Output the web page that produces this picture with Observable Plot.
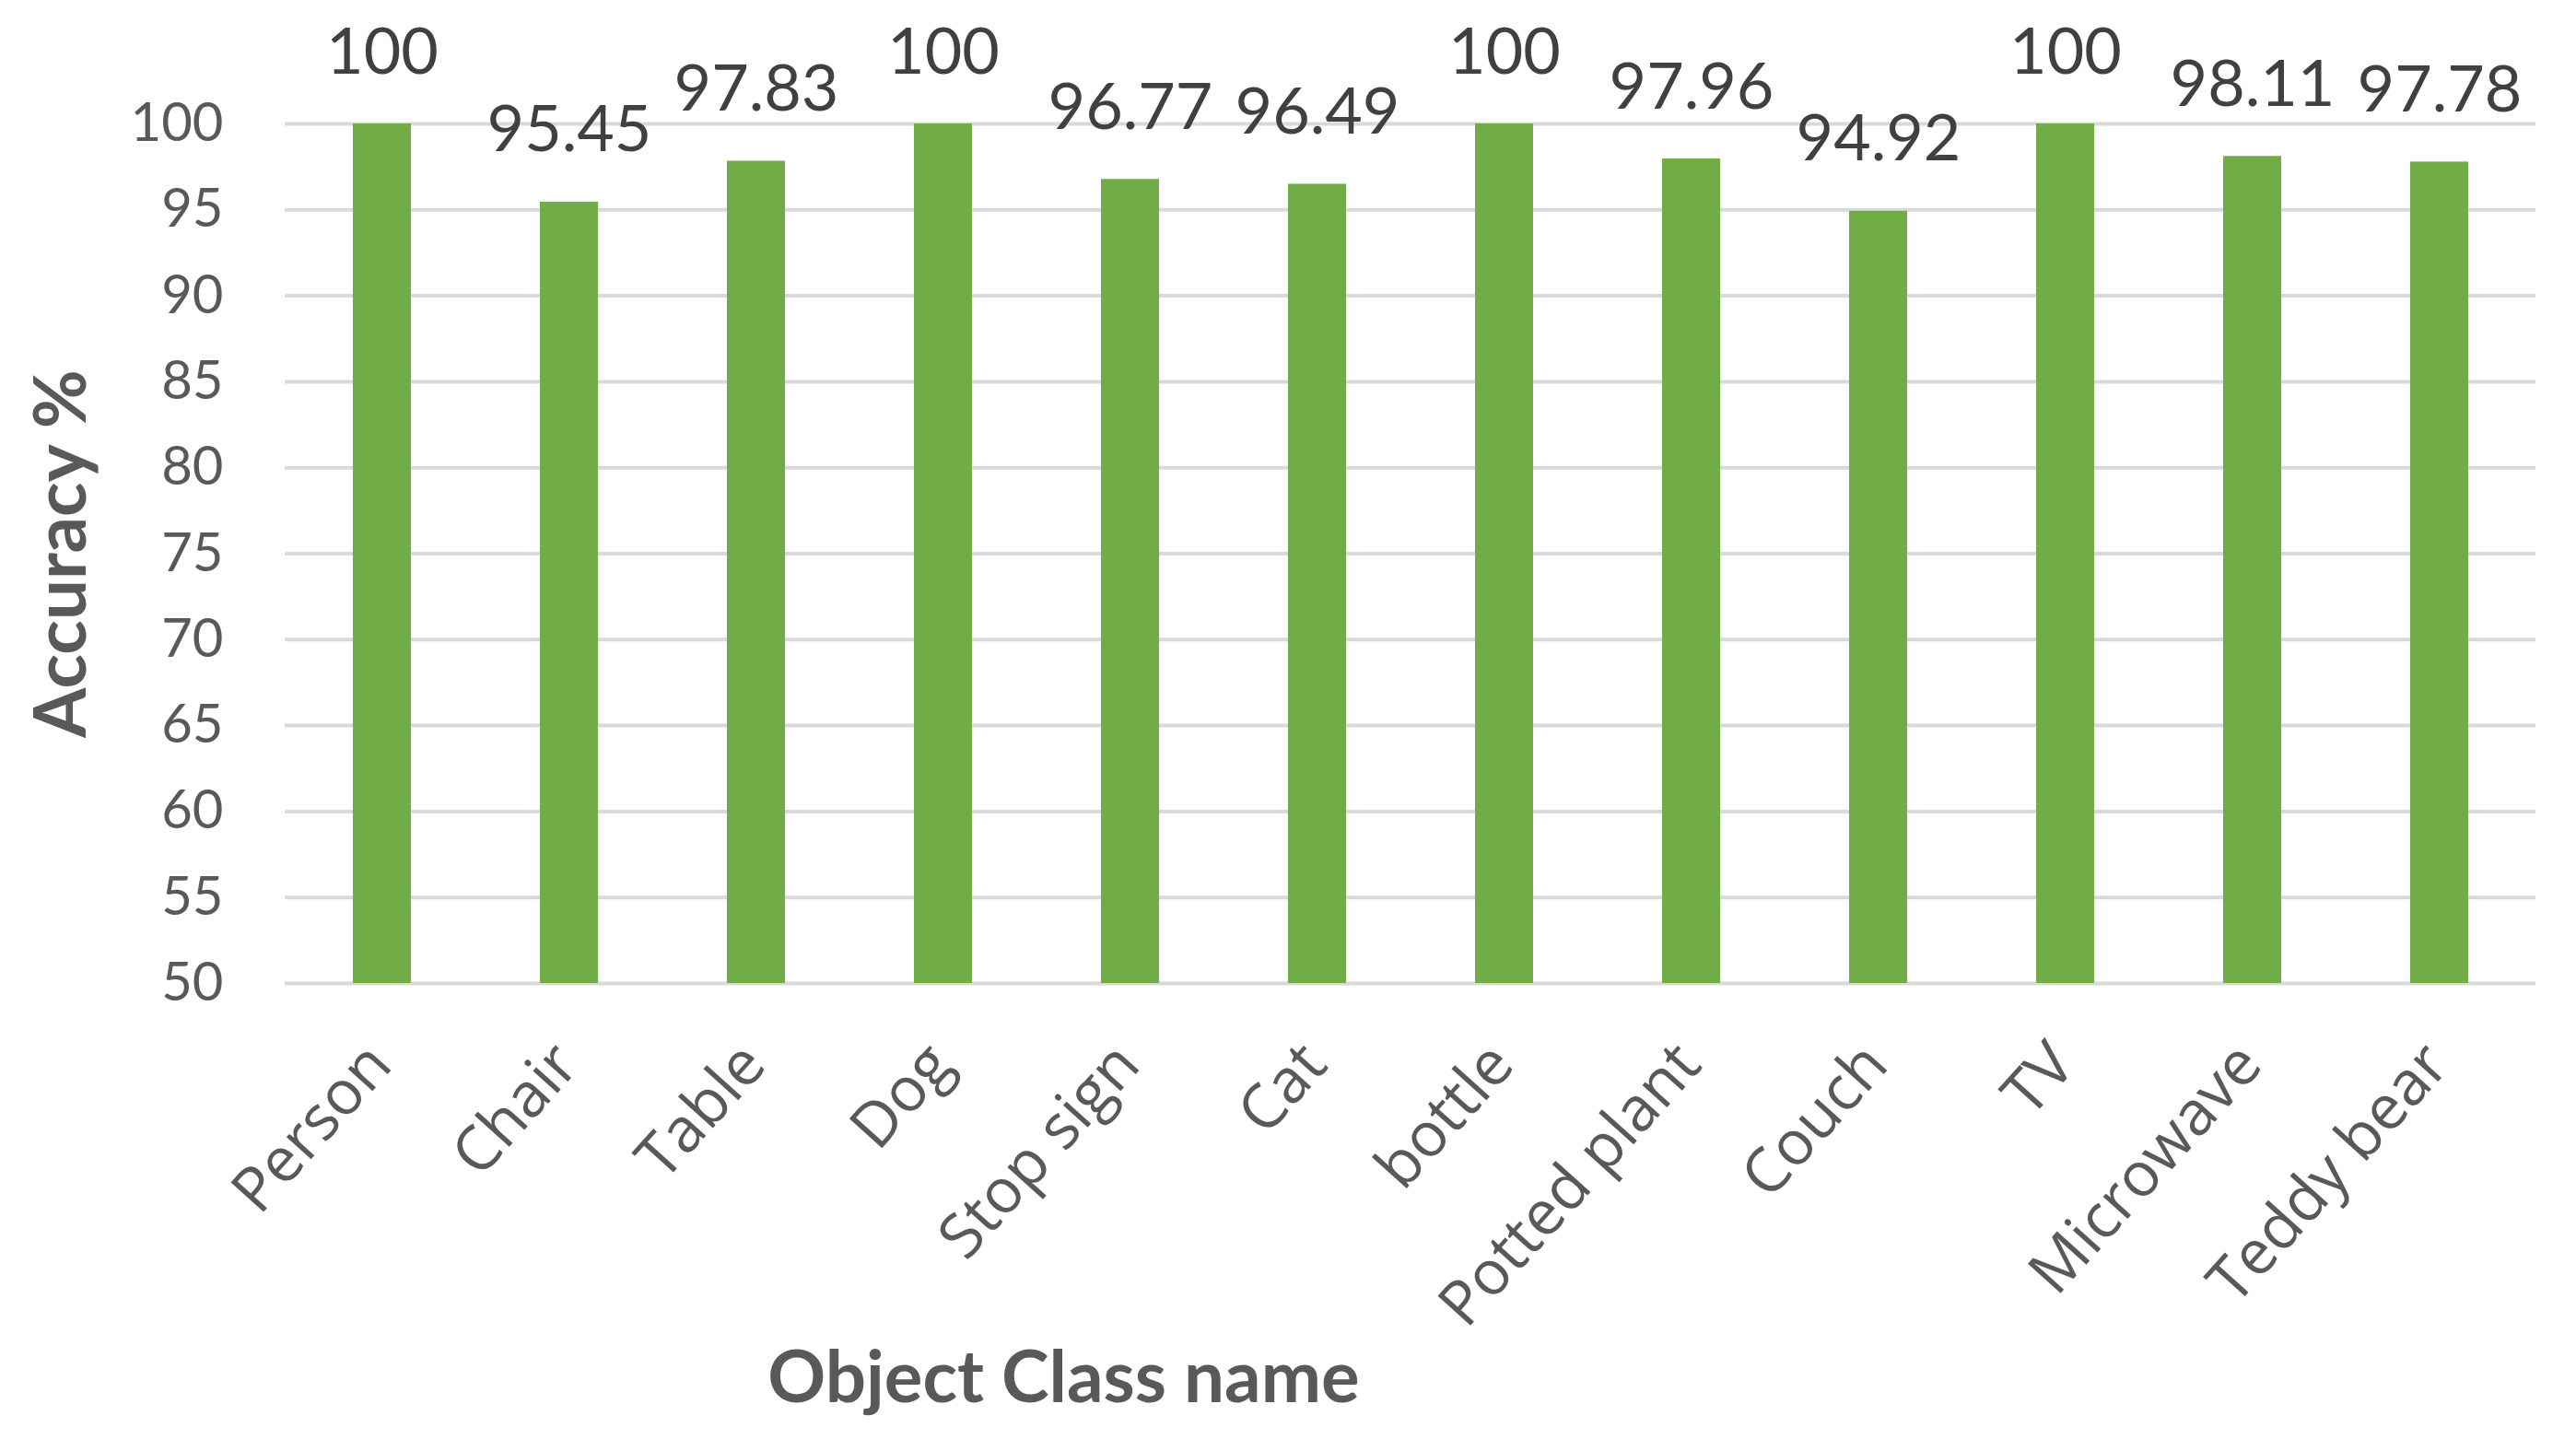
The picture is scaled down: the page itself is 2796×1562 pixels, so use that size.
<!DOCTYPE html>
<html>
<head>
<meta charset="utf-8">
<script src="https://cdn.jsdelivr.net/npm/d3@7"></script>
<script src="https://cdn.jsdelivr.net/npm/@observablehq/plot@0.6"></script>
<style>
  html, body { margin: 0; padding: 0; background: #ffffff; }
  #chart svg { display: block; }
</style>
</head>
<body>
<div id="chart"></div>
<script>
// Data
const categories = ["Person", "Chair", "Table", "Dog", "Stop sign", "Cat", "bottle", "Potted plant", "Couch", "TV", "Microwave", "Teddy bear"];
const accuracy = [100, 95.45, 97.83, 100, 96.77, 96.49, 100, 97.96, 94.92, 100, 98.11, 97.78];
const yTicks = [50, 55, 60, 65, 70, 75, 80, 85, 90, 95, 100];
const yDomain = [50, 100];
const xTitle = "Object Class name";
const yTitle = "Accuracy %";

const data = categories.map((name, i) => ({name, value: accuracy[i]}));

const chart = Plot.plot({
  width: 2796,
  height: 1562,
  marginLeft: 309,
  marginRight: 44,
  marginTop: 134,
  marginBottom: 495,
  style: {fontFamily: "Lato, sans-serif", background: "#ffffff", color: "#595959"},
  x: {domain: categories, paddingInner: 0.69, paddingOuter: 0.345},
  y: {domain: yDomain},
  marks: [
    Plot.gridY(yTicks, {stroke: "#d9d9d9", strokeOpacity: 1, strokeWidth: 4}),
    Plot.barY(data, {x: "name", y1: () => yDomain[0], y2: "value", fill: "#70ad47"}),
    Plot.text(data, {x: "name", y: "value", text: d => String(d.value), dy: -55, lineAnchor: "bottom", fontSize: 70, fill: "#404040"}),
    Plot.axisY({ticks: yTicks, tickSize: 0, tickPadding: 67, fontSize: 58, label: null, color: "#595959"}),
    Plot.axisX({tickRotate: -48, tickSize: 0, tickPadding: 76, dx: -3, fontSize: 67, fontFamily: "Open Sans", label: null, color: "#595959"}),
    Plot.text([yTitle], {frameAnchor: "left", dx: -217, rotate: -90, textAnchor: "middle", lineAnchor: "bottom", fontSize: 78, fontWeight: "bold", fill: "#595959"}),
    Plot.text([xTitle], {frameAnchor: "bottom-left", dx: 845, dy: 454, lineAnchor: "bottom", textAnchor: "middle", fontSize: 78, fontWeight: "bold", fill: "#595959"})
  ]
});
document.getElementById("chart").appendChild(chart);
</script>
</body>
</html>
